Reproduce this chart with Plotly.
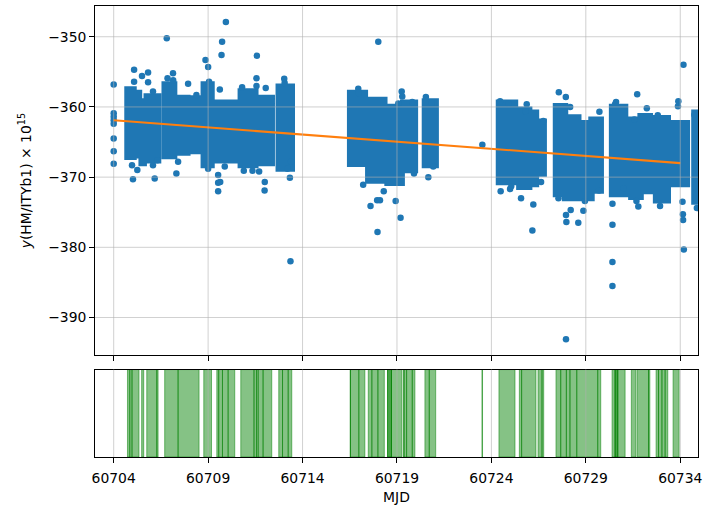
import plotly.graph_objects as go

# ---------------- data ----------------
# dense observation columns (start MJD, end MJD, lower y, upper y) of the scatter cloud
col_x0 = [60704.73, 60705.05, 60705.48, 60705.75, 60706.70, 60707.20, 60707.90, 60708.77,
          60709.46, 60710.73, 60711.50, 60712.74, 60716.52, 60717.48, 60718.50, 60719.33,
          60720.48, 60724.40, 60725.48, 60726.00, 60726.47, 60727.42, 60727.90, 60728.60,
          60729.30, 60730.39, 60731.41, 60731.90, 60732.72, 60733.62, 60734.75]
col_x1 = [60705.05, 60705.34, 60705.59, 60706.35, 60707.20, 60707.90, 60708.52, 60709.18,
          60710.41, 60711.50, 60712.37, 60713.43, 60717.30, 60718.33, 60719.25, 60719.95,
          60721.05, 60725.25, 60726.00, 60726.36, 60726.77, 60727.90, 60728.60, 60729.30,
          60729.79, 60731.08, 60731.90, 60732.39, 60733.34, 60734.35, 60735.00]
col_lo = [-367.1, -366.9, -368.0, -367.6, -367.0, -366.5, -366.3, -368.3,
          -367.6, -368.3, -368.0, -368.8, -368.1, -370.5, -370.8, -369.0,
          -368.3, -370.7, -371.4, -371.0, -369.5, -372.4, -373.0, -373.0,
          -371.9, -372.4, -372.8, -372.0, -373.3, -371.0, -373.5]
col_hi = [-357.5, -358.0, -359.2, -358.5, -356.8, -358.7, -358.8, -356.8,
          -359.4, -357.8, -358.7, -357.1, -358.0, -359.0, -360.0, -359.4,
          -359.2, -359.4, -360.4, -360.8, -362.1, -359.9, -361.5, -362.3,
          -361.8, -360.0, -361.8, -361.3, -361.6, -362.3, -360.8]

# isolated points
pt_mjd = [60704.0, 60704.0, 60704.0, 60704.0, 60704.0, 60704.0, 60704.0, 60704.0,
          60705.08, 60705.50, 60705.82, 60705.08, 60705.82, 60706.08, 60704.97, 60705.02,
          60705.25, 60706.17, 60706.08, 60706.31,
          60706.81, 60707.14, 60707.15, 60706.85, 60707.94, 60707.32, 60707.41, 60708.38,
          60708.86, 60709.00, 60709.05, 60709.00, 60709.53, 60709.53, 60709.53,
          60709.94, 60709.74, 60709.71, 60709.62, 60709.88, 60709.64,
          60711.58, 60711.56, 60711.56, 60712.05, 60710.80, 60712.00, 60711.99, 60710.89,
          60711.35, 60711.70,
          60713.03, 60713.05, 60713.20, 60713.33, 60713.36, 60713.39,
          60718.01, 60716.95, 60716.97, 60719.25, 60719.28, 60719.81, 60719.07, 60717.21,
          60717.60, 60717.95, 60718.10, 60718.93, 60719.19, 60717.97, 60719.90, 60720.66,
          60720.53, 60720.84, 60720.92, 60718.30,
          60723.52, 60724.46, 60724.90, 60724.49, 60724.99, 60725.05, 60725.87, 60725.80,
          60726.75, 60726.63, 60725.57, 60726.22, 60726.17, 60727.57, 60727.94, 60728.17,
          60727.55, 60727.95, 60727.97, 60727.95, 60728.60, 60728.20,
          60728.87, 60728.95, 60729.72, 60729.70, 60730.55, 60730.60, 60730.41, 60730.41,
          60730.41, 60730.41, 60731.00, 60731.72, 60731.57, 60732.23, 60731.78, 60731.68,
          60732.81, 60732.93, 60733.90, 60733.88, 60734.17, 60734.12, 60734.14, 60734.15,
          60734.19, 60734.75, 60734.88]
pt_y = [-356.8, -360.9, -361.4, -361.9, -362.4, -364.5, -366.3, -368.1,
        -354.7, -355.6, -355.1, -356.4, -356.5, -357.8, -368.3, -370.3,
        -369.0, -370.2, -368.3, -367.6,
        -350.2, -355.2, -356.2, -355.9, -356.7, -369.5, -367.8, -358.3,
        -353.3, -354.3, -356.4, -368.8, -369.7, -370.8, -372.0,
        -347.9, -350.7, -352.6, -357.5, -368.5, -370.7,
        -352.7, -355.9, -357.0, -357.3, -357.2, -370.7, -371.9, -369.1,
        -369.1, -369.2,
        -356.0, -356.6, -368.8, -370.1, -382.0, -367.8,
        -350.7, -357.4, -358.0, -357.8, -358.5, -359.3, -359.5, -371.1,
        -374.1, -373.3, -373.3, -373.4, -375.8, -377.8, -369.5, -370.0,
        -358.6, -359.4, -368.5, -372.0,
        -365.4, -359.2, -359.5, -372.0, -371.7, -371.3, -359.6, -360.6,
        -362.0, -370.7, -373.0, -373.9, -377.6, -357.9, -358.6, -360.0,
        -373.0, -375.4, -376.4, -393.1, -376.5, -374.7,
        -374.8, -373.4, -360.7, -371.9, -359.6, -359.3, -373.8, -376.8,
        -382.1, -385.5, -371.6, -358.2, -361.8, -360.2, -374.2, -373.4,
        -361.2, -374.1, -359.2, -359.9, -354.0, -373.5, -375.3, -376.1,
        -380.3, -361.1, -374.4]

# linear fit
fit_mjd = [60704.0, 60734.0]
fit_y = [-361.9, -368.0]

# observation spans (lower panel)
span_start = [60704.73, 60704.85, 60704.97, 60705.48, 60705.75, 60706.28, 60706.70, 60707.41,
              60708.77, 60709.46, 60709.56, 60709.76, 60710.06, 60710.73, 60711.43, 60711.56,
              60711.65, 60711.91, 60712.74, 60712.94, 60713.24, 60716.52, 60716.54, 60716.98,
              60717.48, 60717.67, 60717.99, 60718.50, 60718.50, 60718.71, 60719.33, 60719.38,
              60719.51, 60719.81, 60720.48, 60720.71, 60723.50, 60724.40, 60725.48, 60725.60,
              60726.47, 60726.68, 60727.42, 60727.67, 60727.97, 60728.16, 60728.52, 60729.63,
              60730.39, 60730.55, 60730.55, 60730.69, 60731.41, 60731.73, 60732.32, 60732.72,
              60732.85, 60733.03, 60733.20, 60733.62]
span_end = [60704.85, 60704.97, 60705.34, 60705.59, 60706.28, 60706.35, 60707.41, 60708.52,
            60709.18, 60709.56, 60709.76, 60710.06, 60710.41, 60711.43, 60711.56, 60711.65,
            60711.91, 60712.37, 60712.94, 60713.24, 60713.43, 60716.54, 60716.98, 60717.30,
            60717.67, 60717.99, 60718.33, 60718.71, 60718.71, 60719.25, 60719.38, 60719.51,
            60719.81, 60719.95, 60720.71, 60721.05, 60723.53, 60725.25, 60725.60, 60726.36,
            60726.68, 60726.77, 60727.67, 60727.97, 60728.16, 60728.52, 60729.63, 60729.79,
            60730.55, 60730.69, 60730.69, 60731.08, 60731.66, 60732.32, 60732.39, 60732.85,
            60733.03, 60733.20, 60733.34, 60733.94]

x_ticks = [60704, 60709, 60714, 60719, 60724, 60729, 60734]
y_ticks = [-390, -380, -370, -360, -350]

# ---------------- figure ----------------
BLUE = "#1f77b4"
ORANGE = "#ff7f0e"
FONT = "DejaVu Sans"
GRID = "rgba(176,176,176,0.6)"
RX = 0.17   # marker radius in days (style)
RY = 0.45   # marker radius in y units (style)

fig = go.Figure()

# dense clouds as filled column polygons (outer edge = edge of outermost markers)
poly_x, poly_y = [], []
for a, b, l, h in zip(col_x0, col_x1, col_lo, col_hi):
    poly_x += [a - RX, b + RX, b + RX, a - RX, a - RX, None]
    poly_y += [l - RY, l - RY, h + RY, h + RY, l - RY, None]
fig.add_trace(go.Scatter(
    x=poly_x, y=poly_y, mode="lines", fill="toself", fillcolor=BLUE,
    line=dict(color=BLUE, width=0),
    xaxis="x", yaxis="y", showlegend=False, hoverinfo="skip",
))
fig.add_trace(go.Scatter(
    x=pt_mjd, y=pt_y, mode="markers",
    marker=dict(color=BLUE, size=6.5, line=dict(width=0)),
    xaxis="x", yaxis="y", showlegend=False,
))
fig.add_trace(go.Scatter(
    x=fit_mjd, y=fit_y, mode="lines",
    line=dict(color=ORANGE, width=2.1),
    xaxis="x", yaxis="y", showlegend=False,
))

# observation spans as shapes on the lower panel
for a, b in zip(span_start, span_end):
    fig.add_shape(type="rect", xref="x2", yref="y2 domain", x0=a, x1=b, y0=0, y1=1,
                  fillcolor="rgba(0,128,0,0.48)",
                  line=dict(color="rgba(0,128,0,0.5)", width=1), layer="below")

# grid lines drawn over the point clouds (as in the original)
for t in x_ticks:
    for xr_, yr_ in (("x", "y domain"), ("x2", "y2 domain")):
        fig.add_shape(type="line", xref=xr_, yref=yr_, x0=t, x1=t, y0=0, y1=1,
                      line=dict(color=GRID, width=1), layer="above")
for t in y_ticks:
    fig.add_shape(type="line", xref="x domain", yref="y", x0=0, x1=1, y0=t, y1=t,
                  line=dict(color=GRID, width=1), layer="above")

xr = [60703.01, 60734.94]
axis_common = dict(
    showline=True, linecolor="black", linewidth=1, mirror=True,
    ticks="outside", ticklen=4.9, tickwidth=1.1, tickcolor="black",
    showgrid=False, zeroline=False, automargin=False,
    tickfont=dict(family=FONT, size=13.9, color="black"),
)

fig.update_layout(
    width=706, height=507,
    margin=dict(l=95, r=8, t=6, b=50),
    paper_bgcolor="white", plot_bgcolor="white",
    font=dict(family=FONT, size=13.9, color="black"),
    xaxis=dict(axis_common, domain=[0, 1], anchor="y", range=xr,
               tickvals=x_ticks, showticklabels=False, matches="x2"),
    yaxis=dict(axis_common, domain=[0.2257, 1], anchor="x", range=[-395.37, -345.62],
               tickvals=y_ticks,
               title=dict(text="<i>y</i>(HM/ITYb1) × 10<sup>15</sup>",
                          font=dict(family=FONT, size=13.9), standoff=13)),
    xaxis2=dict(axis_common, domain=[0, 1], anchor="y2", range=xr,
                tickvals=x_ticks, ticktext=[str(t) for t in x_ticks],
                ticklabelstandoff=3,
                title=dict(text="MJD", font=dict(family=FONT, size=13.9), standoff=7)),
    yaxis2=dict(axis_common, domain=[0, 0.1939], anchor="x2", range=[0, 1],
                ticks="", showticklabels=False),
)

fig.write_html("out.html", config={"displayModeBar": False},
               post_script="document.body.style.margin='0';")
